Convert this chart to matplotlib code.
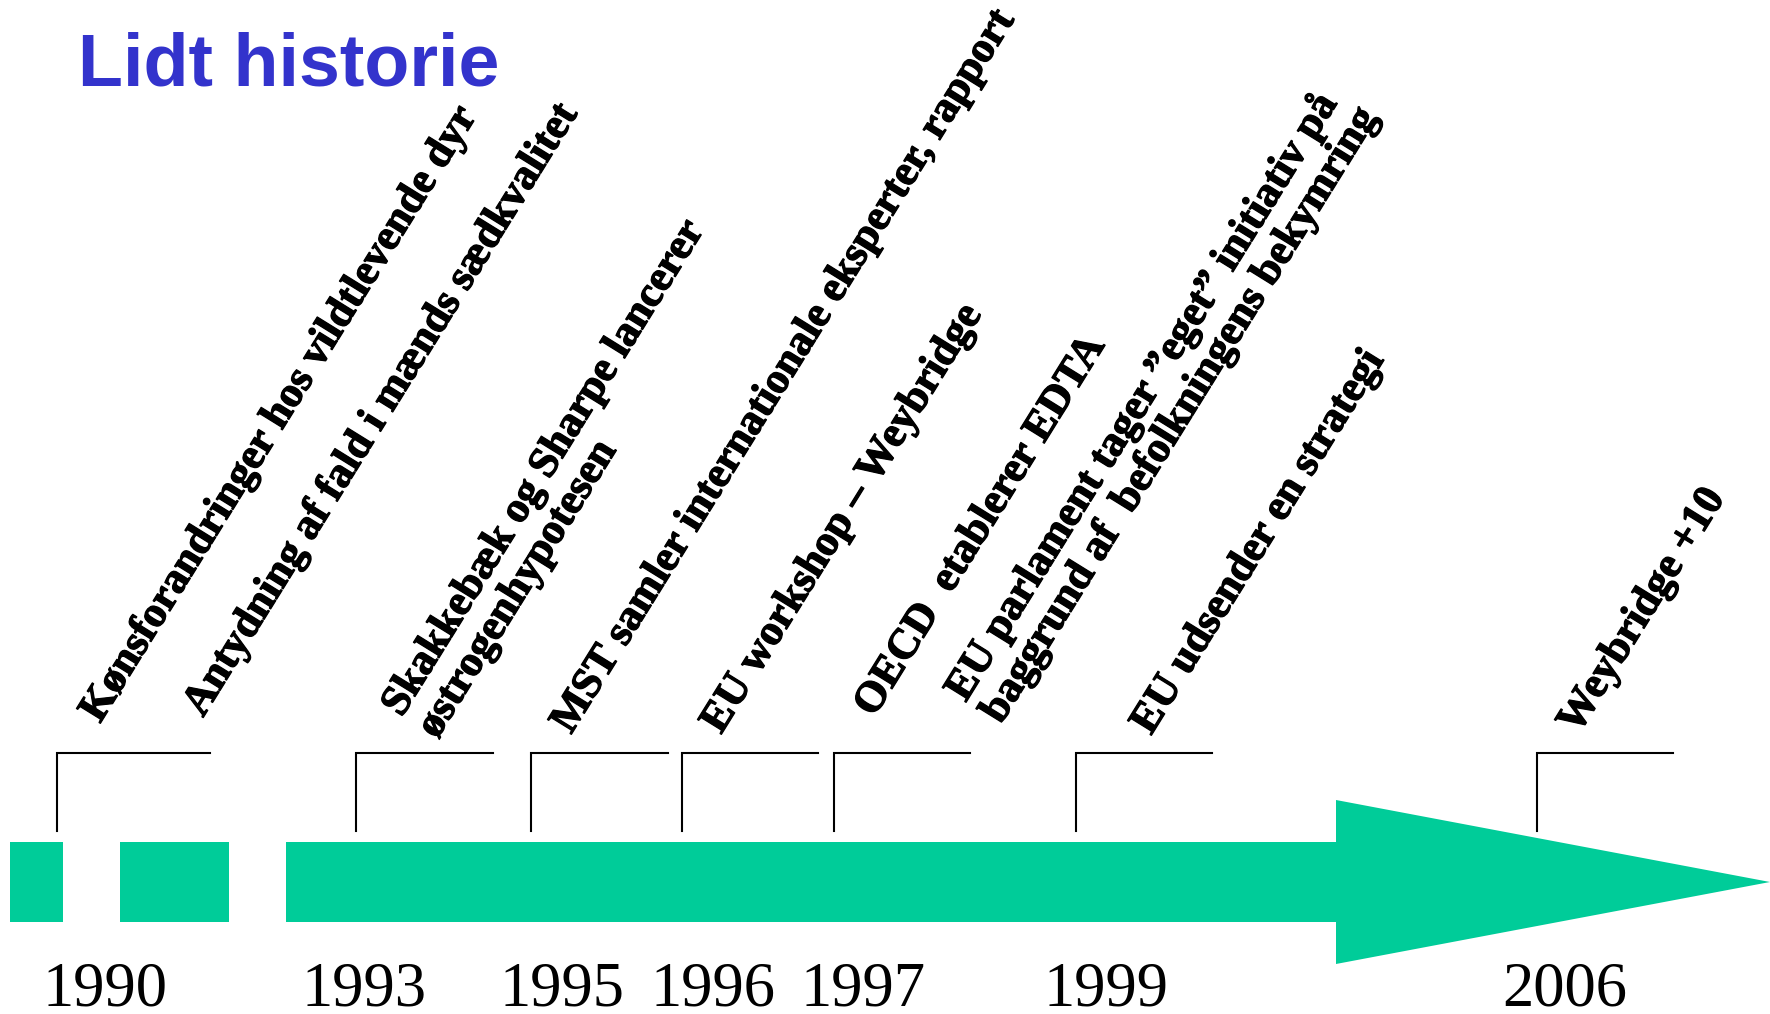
"""
Tidslinje: Lidt historie
"""
import matplotlib
matplotlib.use("Agg")
import matplotlib.pyplot as plt
import matplotlib.patheffects as pe


# years on the timeline
years = ["1990", "1993", "1995", "1996", "1997", "1999", "2006"]

# events (year they belong to, and text)
event_years = ["1990", "1990", "1993", "1995", "1996", "1997", "1997", "1999", "2006"]
event_labels = [
    "Kønsforandringer hos vildtlevende dyr",
    "Antydning af fald i mænds sædkvalitet",
    "Skakkebæk og Sharpe lancerer\nøstrogenhypotesen",
    "MST samler internationale eksperter, rapport",
    "EU workshop – Weybridge",
    "OECD  etablerer EDTA",
    "EU parlament tager ”eget” initiativ på\nbaggrund af  befolkningens bekymring",
    "EU udsender en strategi",
    "Weybridge +10",
]

# layout (pixel positions on the slide, not data)
bracket_x = [57, 356, 531, 682, 834, 1076, 1537]
bracket_w = [153, 137, 137, 136, 136, 136, 136]
year_x = [105, 364, 562, 713, 863, 1106, 1565]
# anchor = start of the last line's baseline
label_pos = [(100, 724), (203, 718), (434, 738), (571, 735), (721, 735),
             (874, 718), (998, 723), (1151, 736), (1578, 735)]

green = "#00CC99"
serif = "Liberation Serif"

fig = plt.figure(figsize=(17.7, 10.14), dpi=100)
ax = fig.add_axes([0, 0, 1, 1])
ax.set_xlim(0, 1770)
ax.set_ylim(1014, 0)
ax.axis("off")

# title
ax.text(78, 86, "Lidt historie", fontsize=53, fontweight="bold",
        family="Liberation Sans", color="#3333CC", ha="left", va="baseline")

# the arrow: broken start, then shaft and head
bar_y, bar_h = 882, 80
pieces = [(10, 53), (120, 109), (286, 1052)]
for left, w in pieces:
    ax.barh(bar_y, w, left=left, height=bar_h, color=green, linewidth=0)
ax.fill([1336, 1770, 1336], [800, 882, 964], color=green, linewidth=0)

# brackets + year labels
for i, yr in enumerate(years):
    x = bracket_x[i]
    ax.plot([x, x, x + bracket_w[i]], [831, 753, 753], color="black", lw=1.5,
            solid_joinstyle="miter")
    ax.text(year_x[i], 1006, yr, fontsize=45, family=serif,
            ha="center", va="baseline")

# rotated event texts
bolder = [pe.withStroke(linewidth=0.9, foreground="black")]
for (x, y), txt in zip(label_pos, event_labels):
    ax.text(x, y, txt, fontsize=31, fontweight="bold", family=serif,
            rotation=58.2, rotation_mode="anchor", ha="left", va="baseline",
            linespacing=1.12, path_effects=bolder)

fig.savefig("out.png", dpi=100)
